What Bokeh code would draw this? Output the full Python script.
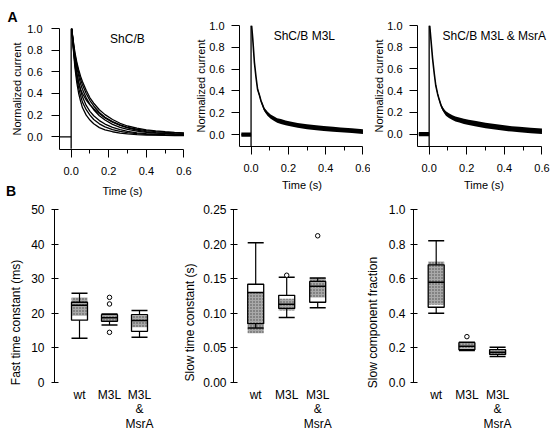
from bokeh.plotting import figure
from bokeh.layouts import column, row
from bokeh.models import FixedTicker, PrintfTickFormatter, Label, Title, Div
from bokeh.embed import file_html
from bokeh.resources import INLINE
from bokeh.core.properties import value

FONT = "Liberation Sans"

# ---------------- Panel A data ----------------
time_ticks = [0.0, 0.2, 0.4, 0.6]
time_minor = [0.1, 0.3, 0.5]
current_ticks = [0.0, 0.2, 0.4, 0.6, 0.8, 1.0]

# ShC/B: several superimposed normalized current decays
t_shc = [0.003, 0.01, 0.02, 0.03, 0.04, 0.05, 0.06, 0.08, 0.10, 0.12, 0.15,
         0.18, 0.22, 0.26, 0.30, 0.35, 0.40, 0.45, 0.50, 0.55, 0.60]
shc_1 = [1.0, 0.90, 0.78, 0.69, 0.62, 0.56, 0.51, 0.43, 0.36, 0.31, 0.25,
         0.205, 0.16, 0.125, 0.10, 0.08, 0.065, 0.055, 0.047, 0.041, 0.036]
shc_2 = [1.0, 0.89, 0.76, 0.67, 0.59, 0.53, 0.48, 0.40, 0.335, 0.285, 0.225,
         0.18, 0.14, 0.11, 0.088, 0.07, 0.057, 0.048, 0.041, 0.036, 0.032]
shc_3 = [1.0, 0.88, 0.74, 0.64, 0.56, 0.49, 0.44, 0.36, 0.30, 0.25, 0.195,
         0.155, 0.115, 0.088, 0.068, 0.052, 0.042, 0.035, 0.030, 0.026, 0.023]
shc_4 = [1.0, 0.86, 0.69, 0.58, 0.50, 0.44, 0.40, 0.34, 0.295, 0.26, 0.215,
         0.175, 0.135, 0.105, 0.082, 0.062, 0.048, 0.038, 0.031, 0.026, 0.022]
shc_5 = [1.0, 0.87, 0.71, 0.59, 0.50, 0.43, 0.37, 0.29, 0.235, 0.195, 0.15,
         0.118, 0.088, 0.066, 0.05, 0.037, 0.029, 0.024, 0.020, 0.018, 0.016]
shc_6 = [1.0, 0.85, 0.67, 0.54, 0.45, 0.38, 0.32, 0.25, 0.20, 0.16, 0.12,
         0.092, 0.067, 0.05, 0.038, 0.029, 0.023, 0.019, 0.016, 0.014, 0.013]
shc_7 = [1.0, 0.84, 0.64, 0.50, 0.40, 0.33, 0.27, 0.20, 0.155, 0.12, 0.085,
         0.065, 0.047, 0.035, 0.027, 0.021, 0.017, 0.015, 0.013, 0.012, 0.011]
shc_traces = [shc_1, shc_2, shc_3, shc_4, shc_5, shc_6, shc_7]
shc_base_t = [-0.062, 0.0]
shc_base_y = [0.0, 0.0]

# stimulus artefact at t = 0 (vertical line)
artifact_t = [0.0, 0.0]
artifact_y = [-0.11, 1.0]

# ShC/B M3L: noisy trace -> centre and half-width of the noise band
t_m3l = [0.003, 0.009, 0.018, 0.027, 0.035, 0.045, 0.053, 0.062, 0.071, 0.08,
         0.089, 0.105, 0.124, 0.14, 0.16, 0.185, 0.21, 0.25, 0.30, 0.35,
         0.39, 0.44, 0.48, 0.54, 0.60]
m3l_mid = [1.0, 0.88, 0.66, 0.52, 0.415, 0.36, 0.31, 0.27, 0.23, 0.21,
           0.19, 0.165, 0.145, 0.13, 0.12, 0.108, 0.098, 0.085, 0.072, 0.063,
           0.056, 0.049, 0.044, 0.036, 0.028]
m3l_half = [0.004, 0.006, 0.008, 0.010, 0.012, 0.014, 0.015, 0.016, 0.017, 0.018,
            0.019, 0.02, 0.021, 0.021, 0.022, 0.022, 0.022, 0.022, 0.022, 0.022,
            0.022, 0.022, 0.022, 0.022, 0.022]
m3l_pre_t = [-0.052, 0.0]
m3l_pre_mid = [0.0, 0.0]
m3l_pre_half = [0.02, 0.02]

# ShC/B M3L & MsrA
t_msra = [0.003, 0.009, 0.018, 0.027, 0.035, 0.045, 0.053, 0.062, 0.071, 0.08,
          0.089, 0.105, 0.124, 0.14, 0.16, 0.185, 0.21, 0.25, 0.30, 0.35,
          0.39, 0.44, 0.48, 0.54, 0.60]
msra_mid = [1.0, 0.88, 0.70, 0.56, 0.45, 0.37, 0.32, 0.27, 0.235, 0.21,
            0.19, 0.17, 0.152, 0.14, 0.13, 0.118, 0.108, 0.095, 0.08, 0.068,
            0.058, 0.048, 0.042, 0.034, 0.026]
msra_half = [0.004, 0.006, 0.008, 0.010, 0.012, 0.014, 0.015, 0.016, 0.017, 0.019,
             0.02, 0.021, 0.022, 0.023, 0.024, 0.024, 0.025, 0.025, 0.025, 0.025,
             0.025, 0.025, 0.025, 0.025, 0.025]
msra_pre_t = [-0.055, 0.0]
msra_pre_mid = [0.0, 0.0]
msra_pre_half = [0.02, 0.02]

# ---------------- Panel B data ----------------
groups = ["wt", "M3L", "M3L\n&\nMsrA"]
group_pos = [1, 2, 3]

fast_ticks = [0, 10, 20, 30, 40, 50]
fast_lo = [12.8, 16.6, 13.1]
fast_q1 = [18.0, 17.7, 14.8]
fast_med = [22.3, 18.7, 17.9]
fast_q3 = [23.2, 19.6, 19.6]
fast_hi = [25.8, 19.8, 20.8]
fast_shade_lo = [19.3, 17.9, 16.0]
fast_shade_hi = [24.6, 19.4, 19.3]
fast_out_pos = [2, 2, 2]
fast_out_val = [24.6, 22.7, 14.5]

slow_ticks = [0.0, 0.05, 0.10, 0.15, 0.20, 0.25]
slow_lo = [0.0786, 0.094, 0.108]
slow_q1 = [0.085, 0.107, 0.116]
slow_med = [0.130, 0.113, 0.139]
slow_q3 = [0.142, 0.126, 0.146]
slow_hi = [0.202, 0.152, 0.151]
slow_shade_lo = [0.071, 0.104, 0.123]
slow_shade_hi = [0.130, 0.121, 0.151]
slow_out_pos = [2, 3]
slow_out_val = [0.155, 0.212]

frac_ticks = [0.0, 0.2, 0.4, 0.6, 0.8, 1.0]
frac_lo = [0.40, 0.185, 0.15]
frac_q1 = [0.435, 0.19, 0.162]
frac_med = [0.58, 0.21, 0.175]
frac_q3 = [0.68, 0.23, 0.19]
frac_hi = [0.82, 0.233, 0.204]
frac_shade_lo = [0.45, 0.195, 0.165]
frac_shade_hi = [0.70, 0.225, 0.185]
frac_out_pos = [2]
frac_out_val = [0.265]


def style_axis(ax, size):
    ax.axis_line_color = "black"
    ax.axis_line_width = 1
    ax.major_tick_line_color = "black"
    ax.minor_tick_line_color = "black"
    ax.major_label_text_font = FONT
    ax.major_label_text_font_size = size
    ax.major_label_text_color = "black"
    ax.axis_label_text_font = FONT
    ax.axis_label_text_font_size = size
    ax.axis_label_text_font_style = "normal"
    ax.axis_label_text_color = "black"


PX_PER_S = 188.0
X0 = -0.062
TOP_H = 198
STRIP_H = 14


def trace_panel(width, height, mbl, mbr, mbt, frame_h, y_min, title_ylabel=False, xlabel=True):
    frame_w = width - mbl - mbr
    p = figure(width=width, height=height,
               x_range=(X0, X0 + frame_w / PX_PER_S), y_range=(y_min, 1.0),
               min_border_left=mbl, min_border_right=mbr,
               min_border_top=mbt, min_border_bottom=height - mbt - frame_h,
               output_backend="svg", toolbar_location=None)
    p.outline_line_color = None
    p.grid.visible = False
    p.background_fill_color = "white"
    p.border_fill_color = "white"
    xa = p.xaxis[0]
    ya = p.yaxis[0]
    style_axis(xa, "11px")
    style_axis(ya, "11px")
    xa.bounds = (X0, 0.6)
    xa.ticker = FixedTicker(ticks=time_ticks, minor_ticks=time_minor)
    xa.formatter = PrintfTickFormatter(format="%.1f")
    xa.major_tick_out = 8
    xa.major_tick_in = 0
    xa.minor_tick_out = 4
    xa.minor_tick_in = 0
    xa.major_label_standoff = 9
    if xlabel:
        xa.axis_label = "Time (s)"
        xa.axis_label_standoff = 4
    ya.ticker = FixedTicker(ticks=current_ticks, minor_ticks=[])
    ya.formatter = PrintfTickFormatter(format="%.1f")
    ya.major_tick_out = 8
    ya.major_tick_in = 0
    if title_ylabel:
        ya.major_label_standoff = 7
        p.add_layout(Title(text="Normalized current", align="center", standoff=0,
                           text_font=FONT, text_font_size="11px", text_font_style="normal",
                           text_color="black"), "left")
    else:
        ya.major_label_standoff = 9
        ya.axis_label = "Normalized current"
        ya.axis_label_standoff = 1
    p.line(artifact_t, artifact_y, line_color="black", line_width=1.3)
    return p


def add_title(p, text, x):
    p.add_layout(Label(x=x, y=0.9, text=text, text_font=FONT, text_font_size="12px",
                       text_align="left", text_baseline="middle", text_color="black"))


def band(p, t, mid, half):
    lower = [m - h for m, h in zip(mid, half)]
    upper = [m + h for m, h in zip(mid, half)]
    p.varea(x=t, y1=lower, y2=upper, fill_color="black")
    p.line(t, mid, line_color="black", line_width=1.6)


# ---- top row ----
P1_W = 192
p1 = trace_panel(P1_W, TOP_H - STRIP_H, 59, 6, 28, 121, -0.117, xlabel=False)
p1.multi_line(xs=[t_shc] * len(shc_traces), ys=shc_traces, line_color="black", line_width=1.3)
p1.line(shc_base_t, shc_base_y, line_color="black", line_width=1.2)
add_title(p1, "ShC/B", 0.207)
p1.add_layout(Title(text="A", align="left", offset=-52, standoff=8,
                    text_font=FONT, text_font_size="14px", text_font_style="bold",
                    text_color="black"), "above")

# thin HTML strip under panel A1: "B" panel letter and the time-axis title
strip_html = (
    '<div style="position:relative;width:%dpx;height:%dpx;margin:0;padding:0;'
    'font-family:\'Liberation Sans\',Arial,sans-serif;color:black;">'
    '<span style="position:absolute;left:3px;top:0;width:16px;text-align:center;'
    'font-size:14px;font-weight:bold;line-height:%dpx;">B</span>'
    '<span style="position:absolute;left:59px;top:0;width:127px;text-align:center;'
    'font-size:11px;line-height:%dpx;">Time (s)</span>'
    '</div>' % (P1_W, STRIP_H, STRIP_H, STRIP_H)
)
strip = Div(text=strip_html, width=P1_W, height=STRIP_H, margin=0)
col1 = column(p1, strip, spacing=0)

p2 = trace_panel(178, TOP_H, 46, 6, 25, 122, -0.109, title_ylabel=True)
band(p2, t_m3l, m3l_mid, m3l_half)
band(p2, m3l_pre_t, m3l_pre_mid, m3l_pre_half)
add_title(p2, "ShC/B M3L", 0.121)

p3 = trace_panel(188, TOP_H, 47, 8, 25, 121, -0.114, title_ylabel=True)
band(p3, t_msra, msra_mid, msra_half)
band(p3, msra_pre_t, msra_pre_mid, msra_pre_half)
add_title(p3, "ShC/B M3L & MsrA", 0.071)

# ---- bottom row ----
B_H = 237           # figure height
B_TOP = 11          # border above frame
B_ZERO = 173        # px from frame top to zero line
BOX_W_PX = 16


def box_panel(width, mbl, mbr, px_per_cat, first_off, ymax, ticks, fmt, label, label_standoff,
              label_tick_standoff, lo, q1, med, q3, hi, sh_lo, sh_hi, out_pos, out_val):
    frame_w = width - mbl - mbr
    frame_h = B_H - B_TOP
    ppu = B_ZERO / ymax
    y_min = ymax - frame_h / ppu
    x_start = 1 - first_off / px_per_cat
    p = figure(width=width, height=B_H,
               x_range=(x_start, x_start + frame_w / px_per_cat), y_range=(y_min, ymax),
               min_border_left=mbl, min_border_right=mbr,
               min_border_top=B_TOP, min_border_bottom=0,
               x_axis_location=None,
               output_backend="svg", toolbar_location=None)
    p.outline_line_color = None
    p.grid.visible = False
    p.background_fill_color = "white"
    p.border_fill_color = "white"
    ya = p.yaxis[0]
    style_axis(ya, "12px")
    ya.bounds = (0, ymax)
    ya.ticker = FixedTicker(ticks=ticks, minor_ticks=[])
    ya.formatter = PrintfTickFormatter(format=fmt)
    ya.major_tick_out = 3
    ya.major_tick_in = 4
    ya.major_label_standoff = label_tick_standoff
    ya.axis_label = label
    ya.axis_label_standoff = label_standoff

    bw = BOX_W_PX / px_per_cat
    left = [x - bw / 2 for x in group_pos]
    right = [x + bw / 2 for x in group_pos]
    # white box
    p.vbar(x=group_pos, width=bw, bottom=q1, top=q3, fill_color="white", line_color=None)
    # shaded (stippled) box
    p.vbar(x=group_pos, width=bw, bottom=sh_lo, top=sh_hi, fill_color="#a9a9a9",
           line_color=None, hatch_pattern="dot", hatch_color="#4a4a4a",
           hatch_scale=3, hatch_weight=1)
    # box outline
    p.vbar(x=group_pos, width=bw, bottom=q1, top=q3, fill_color=None,
           line_color="black", line_width=1.3)
    # median
    p.segment(x0=left, y0=med, x1=right, y1=med, line_color="black", line_width=1.5)
    # whiskers
    p.segment(x0=group_pos, y0=lo, x1=group_pos, y1=q1, line_color="black", line_width=1.2)
    p.segment(x0=group_pos, y0=q3, x1=group_pos, y1=hi, line_color="black", line_width=1.2)
    p.segment(x0=left, y0=lo, x1=right, y1=lo, line_color="black", line_width=1.5)
    p.segment(x0=left, y0=hi, x1=right, y1=hi, line_color="black", line_width=1.5)
    # outliers
    p.scatter(x=out_pos, y=out_val, marker="circle", size=4.5, fill_color="white",
              line_color="black", line_width=1)
    # category labels below the zero line
    p.text(x=group_pos, y=[-5 / ppu] * len(group_pos), text=groups,
           text_font=value(FONT), text_font_size="12px", text_align="center",
           text_baseline="top", text_line_height=1.05, text_color="black")
    return p


p4 = box_panel(180, 54, 6, 30.0, 25.0, 50, fast_ticks, "%d", "Fast time constant (ms)", 5, 7,
               fast_lo, fast_q1, fast_med, fast_q3, fast_hi, fast_shade_lo, fast_shade_hi,
               fast_out_pos, fast_out_val)
p5 = box_panel(182, 53, 19, 31.0, 22.2, 0.25, slow_ticks, "%.2f", "Slow time constant (s)", 3, 4,
               slow_lo, slow_q1, slow_med, slow_q3, slow_hi, slow_shade_lo, slow_shade_hi,
               slow_out_pos, slow_out_val)
p6 = box_panel(196, 51, 35, 30.7, 22.7, 1.0, frac_ticks, "%.1f", "Slow component fraction", 6, 5,
               frac_lo, frac_q1, frac_med, frac_q3, frac_hi, frac_shade_lo, frac_shade_hi,
               frac_out_pos, frac_out_val)

layout = column(row(col1, p2, p3, spacing=0), row(p4, p5, p6, spacing=0), spacing=0)

open("out.html", "w").write(file_html(layout, INLINE))
